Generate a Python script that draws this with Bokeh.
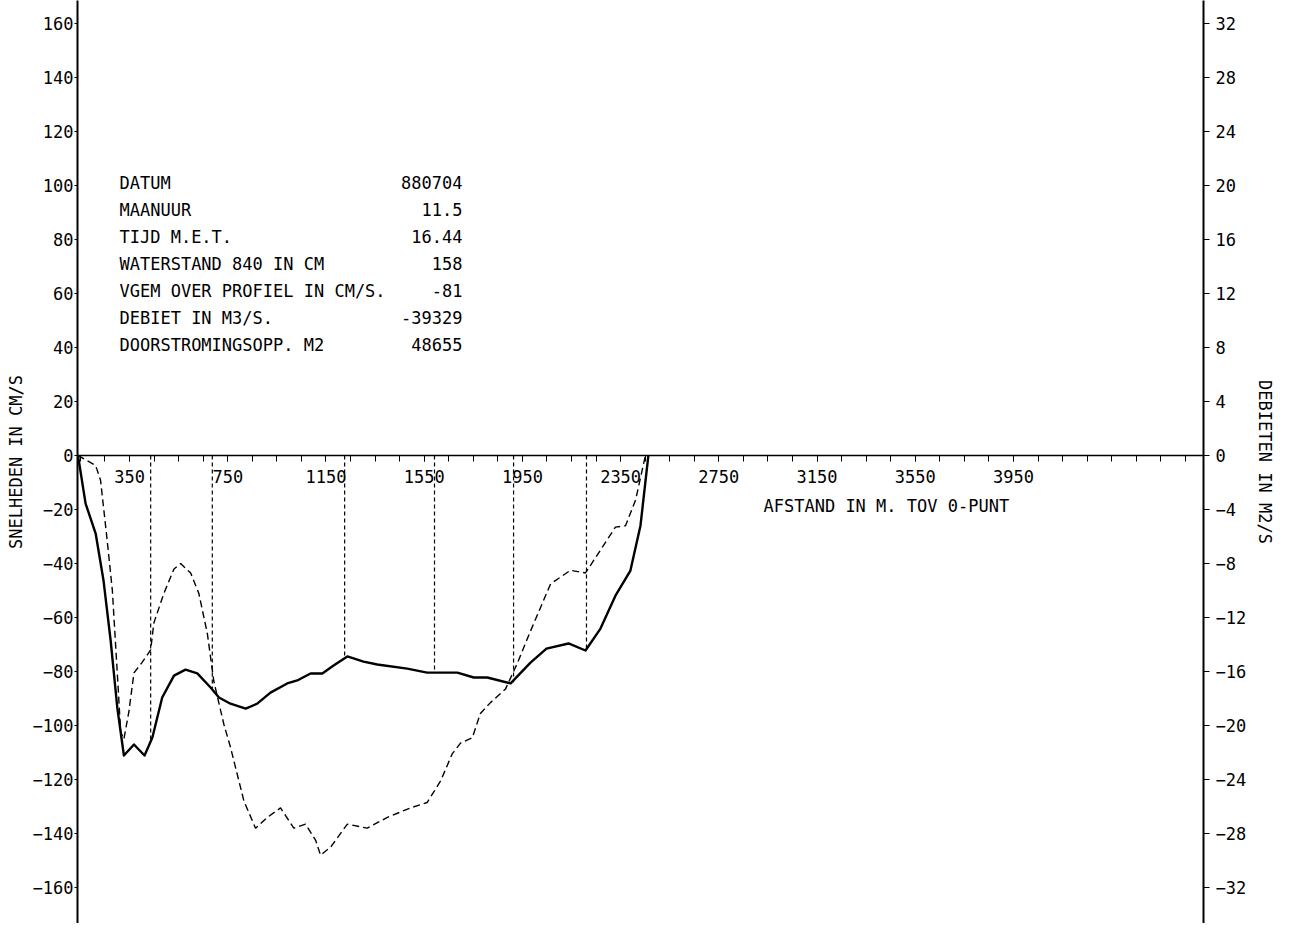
from bokeh.plotting import figure
from bokeh.models import Range1d, LinearAxis, FixedTicker, Label, ColumnDataSource
from bokeh.embed import file_html
from bokeh.resources import INLINE
from bokeh.core.properties import value

# ---------------- data ----------------
# velocity profile (cm/s) along the cross-section (m)
distance_v = [140, 171, 212, 244, 273, 300, 327, 368, 411, 443, 483, 531, 578, 626, 680,
              714, 761, 823, 870, 924, 992, 1033, 1087, 1135, 1181, 1237, 1303, 1359, 1481,
              1562, 1685, 1752, 1807, 1902, 1983, 2048, 2138, 2207, 2268, 2329, 2390, 2431, 2463]
velocity = [0, -17.8, -28.9, -46.3, -68.5, -93.3, -111.1, -107.0, -111.1, -104.4, -89.6, -81.5,
            -79.3, -80.7, -85.9, -89.6, -91.9, -93.7, -91.9, -87.8, -84.4, -83.3, -80.7, -80.7,
            -77.8, -74.4, -76.3, -77.4, -78.9, -80.4, -80.4, -82.2, -82.2, -84.4, -76.7, -71.5,
            -69.6, -72.2, -64.1, -51.9, -42.6, -25.9, 0]

# discharge per metre width (m2/s)
distance_q = [140, 212, 232, 259, 280, 300, 314, 327, 347, 368, 402, 436, 449, 490, 531, 558,
              599, 632, 667, 693, 734, 761, 816, 863, 911, 965, 1019, 1067, 1108, 1128, 1169,
              1237, 1318, 1400, 1494, 1562, 1617, 1664, 1698, 1746, 1779, 1820, 1881, 1929,
              1983, 2065, 2146, 2207, 2268, 2329, 2370, 2411, 2451]
discharge = [0, -0.74, -1.85, -6.3, -10.0, -16.1, -20.5, -21.0, -19.0, -16.1, -15.3, -14.4,
             -12.4, -10.2, -8.4, -8.0, -8.7, -10.2, -13.2, -16.7, -19.9, -21.6, -25.6, -27.6,
             -26.8, -26.1, -27.6, -27.3, -28.5, -29.6, -29.0, -27.3, -27.6, -26.8, -26.1, -25.7,
             -24.1, -22.1, -21.3, -20.9, -19.1, -18.3, -17.3, -15.4, -13.0, -9.5, -8.5, -8.7,
             -7.0, -5.3, -5.2, -3.3, 0]

# measurement verticals
vertical_x = [436, 687, 1226, 1592, 1914, 2211]
vertical_v = [-105.0, -86.5, -75.0, -80.4, -84.0, -72.2]

# axis ticks
x_tick_labels = [350, 750, 1150, 1550, 1950, 2350, 2750, 3150, 3550, 3950]
x_minor_ticks = [150, 250, 350, 450, 550, 650, 750, 850, 950, 1050, 1150, 1250, 1350, 1450,
                 1550, 1650, 1750, 1850, 1950, 2050, 2150, 2250, 2350, 2450, 2550, 2650, 2750,
                 2850, 2950, 3050, 3150, 3250, 3350, 3450, 3550, 3650, 3750, 3850, 3950, 4050,
                 4150, 4250, 4350, 4450, 4550, 4650]
left_ticks = [-160, -140, -120, -100, -80, -60, -40, -20, 0, 20, 40, 60, 80, 100, 120, 140, 160]
right_ticks = [-32, -28, -24, -20, -16, -12, -8, -4, 0, 4, 8, 12, 16, 20, 24, 28, 32]

# info block
info_labels = ["DATUM", "MAANUUR", "TIJD M.E.T.", "WATERSTAND  840 IN CM",
               "VGEM OVER PROFIEL IN CM/S.", "DEBIET IN M3/S.", "DOORSTROMINGSOPP. M2"]
info_values = ["880704", "11.5", "16.44", "158", "-81", "-39329", "48655"]

x_title = "AFSTAND IN M. TOV 0-PUNT"
y_title_left = "SNELHEDEN IN CM/S"
y_title_right = "DEBIETEN IN M2/S"

# ---------------- layout / style ----------------
FONT = "DejaVu Sans Mono"
FS = "17px"
X_START, X_END = 138, 4724
Y_TOP, Y_BOT = 168.5, -173.3
R_FACTOR = 5.0

INFO_X_LEFT, INFO_X_RIGHT = 309, 1706
INFO_Y_TOP, INFO_STEP = 101, 10

p = figure(width=1278, height=923,
           x_range=Range1d(X_START, X_END), y_range=Range1d(Y_BOT, Y_TOP),
           output_backend="svg", toolbar_location=None,
           min_border_top=0, min_border_bottom=0, min_border_left=77, min_border_right=75)
p.outline_line_color = None
p.grid.visible = False
p.background_fill_color = "white"
p.border_fill_color = "white"

p.extra_y_ranges = {"q": Range1d(Y_BOT / R_FACTOR, Y_TOP / R_FACTOR)}

# x axis drawn at y = 0
xa = p.xaxis[0]
xa.fixed_location = 0
xa.ticker = FixedTicker(ticks=x_tick_labels, minor_ticks=x_minor_ticks)
xa.major_tick_out = 6
xa.major_tick_in = 0
xa.minor_tick_out = 6
xa.minor_tick_in = 0
xa.major_label_standoff = 8
xa.major_label_text_font = FONT
xa.major_label_text_font_size = FS
xa.major_label_text_color = "black"
xa.axis_line_width = 1.5
xa.axis_line_color = "black"
xa.major_tick_line_color = "black"
xa.minor_tick_line_color = "black"

# left axis
ya = p.yaxis[0]
ya.ticker = FixedTicker(ticks=left_ticks, minor_ticks=[])
ya.major_tick_out = 3
ya.major_tick_in = 0
ya.minor_tick_out = 0
ya.minor_tick_in = 0
ya.major_label_standoff = 1
ya.major_label_text_font = FONT
ya.major_label_text_font_size = FS
ya.major_label_text_color = "black"
ya.axis_label = y_title_left
ya.axis_label_standoff = 4
ya.axis_label_text_font = FONT
ya.axis_label_text_font_size = FS
ya.axis_label_text_font_style = "normal"
ya.axis_label_text_color = "black"
ya.axis_line_width = 2
ya.axis_line_color = "black"

# right axis
ra = LinearAxis(y_range_name="q", ticker=FixedTicker(ticks=right_ticks, minor_ticks=[]),
                axis_label=y_title_right)
ra.major_tick_out = 6
ra.major_tick_in = 0
ra.minor_tick_out = 0
ra.minor_tick_in = 0
ra.major_label_standoff = 6
ra.major_label_text_font = FONT
ra.major_label_text_font_size = FS
ra.major_label_text_color = "black"
ra.axis_label_standoff = 6
ra.axis_label_text_font = FONT
ra.axis_label_text_font_size = FS
ra.axis_label_text_font_style = "normal"
ra.axis_label_text_color = "black"
ra.axis_line_width = 2
ra.axis_line_color = "black"
p.add_layout(ra, "right")

# measurement verticals
p.segment(x0=vertical_x, y0=[0] * len(vertical_x), x1=vertical_x, y1=vertical_v,
          line_color="black", line_width=1.2, line_dash="4 3")

# curves
p.line(distance_v, velocity, line_color="black", line_width=2.4, line_join="round")
p.line(distance_q, discharge, y_range_name="q", line_color="black", line_width=1.4,
       line_dash="7 4")

# info block
info_y = [INFO_Y_TOP - INFO_STEP * i for i in range(len(info_labels))]
src = ColumnDataSource(dict(x0=[INFO_X_LEFT] * len(info_labels),
                            x1=[INFO_X_RIGHT] * len(info_labels),
                            y=info_y, lab=info_labels, val=info_values))
p.text(x="x0", y="y", text="lab", source=src, text_font=value(FONT),
       text_font_size=value(FS), text_baseline="middle", text_align="left",
       text_color="black")
p.text(x="x1", y="y", text="val", source=src, text_font=value(FONT),
       text_font_size=value(FS), text_baseline="middle", text_align="right",
       text_color="black")

# x axis title
p.add_layout(Label(x=2932, y=-18.6, text=x_title, text_font=FONT, text_font_size=FS,
                   text_baseline="middle", text_align="left", text_color="black"))

open("out.html", "w").write(file_html(p, INLINE))
